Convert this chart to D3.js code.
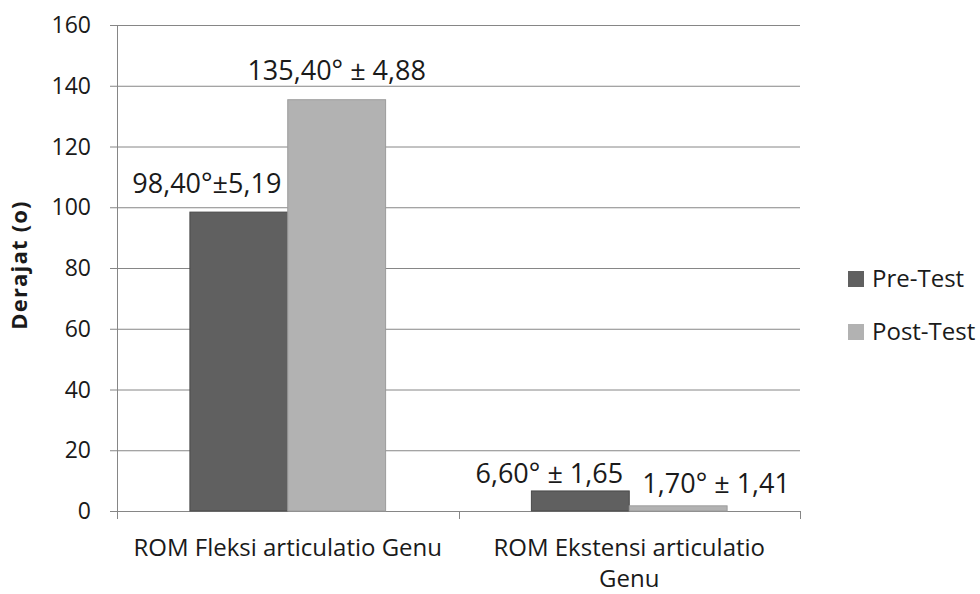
<!DOCTYPE html>
<html>
<head>
<meta charset="utf-8">
<script src="https://cdn.jsdelivr.net/npm/d3@7"></script>
<style>
  html, body { margin: 0; padding: 0; background: #fff; }
  svg text { font-family: "Open Sans", sans-serif; fill: #1a1a1a; }
</style>
</head>
<body>
<svg id="chart" width="980" height="594"></svg>
<script>
// ROM articulatio genu, pre vs post test (degrees)
const categories = ["ROM Fleksi articulatio Genu", "ROM Ekstensi articulatio Genu"];
const categoryLines = [["ROM Fleksi articulatio Genu"], ["ROM Ekstensi articulatio", "Genu"]];
const seriesNames = ["Pre-Test", "Post-Test"];
const preTest = [98.40, 6.60];
const postTest = [135.40, 1.70];
const valueLabels = [
  ["98,40°±5,19", "6,60° ± 1,65"],
  ["135,40° ± 4,88", "1,70° ± 1,41"]
];
const yTicks = [0, 20, 40, 60, 80, 100, 120, 140, 160];
const colors = ["#606060", "#b2b2b2"];
const strokes = ["#4a4a4a", "#9c9c9c"];

const seriesValues = [preTest, postTest];

const svg = d3.select("#chart");
const plot = { left: 117, right: 800, top: 25, bottom: 511 };

const y = d3.scaleLinear().domain([0, 160]).range([plot.bottom, plot.top]);
const x = d3.scaleBand().domain(categories).range([plot.left, plot.right]).padding(0);
const xs = d3.scaleBand().domain(seriesNames).range([0, x.bandwidth()]).paddingInner(0).paddingOuter(0.745);

// gridlines
svg.append("g")
  .selectAll("line")
  .data(yTicks)
  .join("line")
  .attr("x1", plot.left - 7).attr("x2", plot.right)
  .attr("y1", d => y(d) + 0.5).attr("y2", d => y(d) + 0.5)
  .attr("stroke", "#868686").attr("stroke-width", 1);

// y axis line
svg.append("line")
  .attr("x1", plot.left + 0.5).attr("x2", plot.left + 0.5)
  .attr("y1", plot.top).attr("y2", plot.bottom)
  .attr("stroke", "#868686");

// y tick labels
svg.append("g")
  .selectAll("text")
  .data(yTicks)
  .join("text")
  .attr("x", 91).attr("y", d => y(d))
  .attr("dy", "0.35em")
  .attr("text-anchor", "end")
  .attr("font-size", 23)
  .text(d => d);

// x category ticks
const xTickPos = [plot.left, ...categories.map(c => x(c) + x.bandwidth())];
svg.append("g")
  .selectAll("line")
  .data(xTickPos)
  .join("line")
  .attr("x1", d => Math.round(d) + 0.5).attr("x2", d => Math.round(d) + 0.5)
  .attr("y1", plot.bottom).attr("y2", plot.bottom + 8)
  .attr("stroke", "#868686");

// bars
seriesNames.forEach((s, si) => {
  svg.append("g")
    .selectAll("rect")
    .data(categories)
    .join("rect")
    .attr("x", c => x(c) + xs(s))
    .attr("width", xs.bandwidth())
    .attr("y", (c, ci) => y(seriesValues[si][ci]))
    .attr("height", (c, ci) => plot.bottom - y(seriesValues[si][ci]))
    .attr("fill", colors[si])
    .attr("stroke", strokes[si]).attr("stroke-width", 1);
});

// value labels, nudged off their bars as in the source chart
const labelOffsets = [
  [{ dx: -32, dy: -19 }, { dx: -31, dy: -8 }],
  [{ dx: 0, dy: -20 }, { dx: 38, dy: -13 }]
];
seriesNames.forEach((s, si) => {
  categories.forEach((c, ci) => {
    const off = labelOffsets[si][ci];
    svg.append("text")
      .attr("x", x(c) + xs(s) + xs.bandwidth() / 2 + off.dx)
      .attr("y", y(seriesValues[si][ci]) + off.dy)
      .attr("text-anchor", "middle")
      .attr("font-size", 27)
      .text(valueLabels[si][ci]);
  });
});

// category labels, one text per wrapped line
categories.forEach((c, ci) => {
  categoryLines[ci].forEach((line, li) => {
    svg.append("text")
      .attr("x", x(c) + x.bandwidth() / 2)
      .attr("y", 556 + li * 31)
      .attr("text-anchor", "middle")
      .attr("font-size", 24)
      .text(line);
  });
});

// y axis title
svg.append("text")
  .attr("transform", "translate(27,265) rotate(-90)")
  .attr("text-anchor", "middle")
  .attr("font-size", 22)
  .attr("font-weight", "bold")
  .attr("letter-spacing", 1.2)
  .text("Derajat (o)");

// legend
const legend = svg.append("g").attr("transform", "translate(848,271)");
seriesNames.forEach((s, si) => {
  const g = legend.append("g").attr("transform", `translate(0,${si * 53})`);
  g.append("rect").attr("width", 16).attr("height", 16).attr("fill", colors[si]);
  g.append("text").attr("x", 24).attr("y", 16)
    .attr("font-size", 24).text(s);
});
</script>
</body>
</html>
